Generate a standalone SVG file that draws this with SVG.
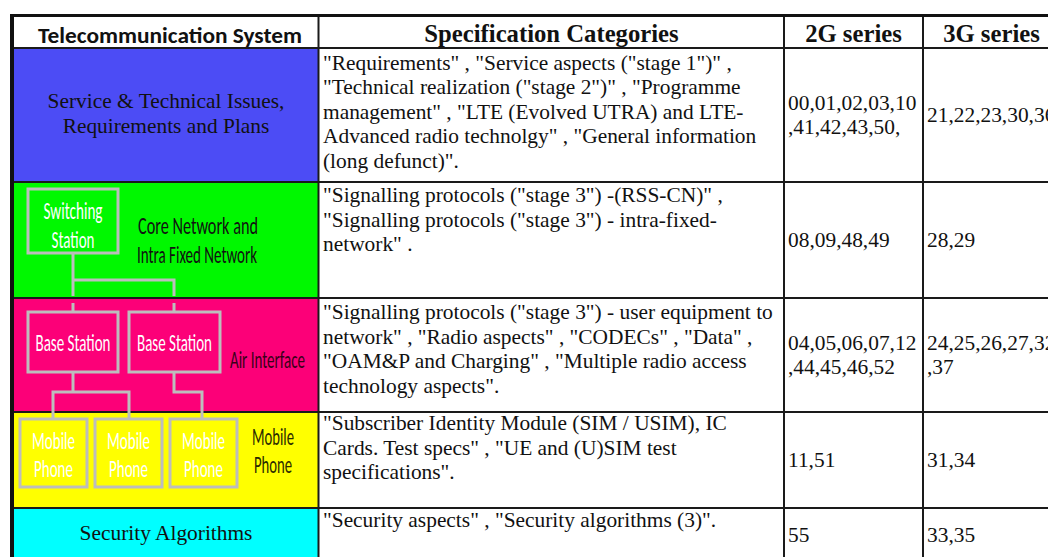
<svg xmlns="http://www.w3.org/2000/svg" width="1048" height="557" viewBox="0 0 1048 557">
<defs>
<clipPath id="canvas"><rect x="0" y="0" width="1048" height="557"/></clipPath>
</defs>
<style>
.serif{font-family:"Liberation Serif","Times New Roman",serif;font-size:21.4px;fill:#111}
.hdr{font-family:"Liberation Serif","Times New Roman",serif;font-size:24.7px;font-weight:bold;fill:#111}
.num{font-family:"Liberation Serif","Times New Roman",serif;font-size:21.4px;fill:#111}
.narrow{font-family:Carlito,"Liberation Sans Narrow","Liberation Sans",sans-serif;font-size:24.5px;text-anchor:middle}
.wt{fill:#ffffff}
.box{fill:none;stroke:#bdbdbd;stroke-width:3}
.grid{stroke:#1a1a1a;stroke-width:2;fill:none}
.conn{stroke:#bdbdbd;stroke-width:3;fill:none}
</style>
<rect x="0" y="0" width="1048" height="557" fill="#ffffff"/>

<g id="col1-fills">
<rect x="14" y="49" width="304" height="133" fill="#4c4cf5"/>
<rect x="14" y="183" width="304" height="115" fill="#00f800"/>
<rect x="14" y="299" width="304" height="113" fill="#fc0078"/>
<rect x="14" y="413" width="304" height="95" fill="#ffff00"/>
<rect x="14" y="509" width="304" height="48" fill="#00ffff"/>
</g>

<g id="grid">
<line class="grid" x1="12" y1="48" x2="1048" y2="48"/>
<line class="grid" x1="12" y1="182" x2="1048" y2="182"/>
<line class="grid" x1="12" y1="298" x2="1048" y2="298"/>
<line class="grid" x1="12" y1="412" x2="1048" y2="412"/>
<line class="grid" x1="12" y1="508" x2="1048" y2="508"/>
<line class="grid" x1="318.5" y1="16" x2="318.5" y2="557"/>
<line class="grid" x1="784" y1="16" x2="784" y2="557"/>
<line class="grid" x1="923" y1="16" x2="923" y2="557"/>
<line x1="10" y1="15.5" x2="1048" y2="15.5" stroke="#111" stroke-width="3"/>
<line x1="12" y1="14" x2="12" y2="557" stroke="#111" stroke-width="4"/>
</g>

<g id="header">
<text x="170" y="43" text-anchor="middle" font-family="Carlito,'Liberation Sans',sans-serif" font-size="22.5" font-weight="bold" fill="#111" textLength="264" lengthAdjust="spacingAndGlyphs">Telecommunication System</text>
<text class="hdr" x="551.5" y="42" text-anchor="middle">Specification Categories</text>
<text class="hdr" x="853.5" y="42" text-anchor="middle">2G series</text>
<text class="hdr" x="991.5" y="42" text-anchor="middle">3G series</text>
</g>

<g id="row-service">
<text class="serif" x="166" y="108" text-anchor="middle">Service &amp; Technical Issues,</text>
<text class="serif" x="166" y="133" text-anchor="middle">Requirements and Plans</text>
<text class="serif" x="323"><tspan x="323" y="69.5">"Requirements" , "Service aspects ("stage 1")" ,</tspan><tspan x="323" y="94">"Technical realization ("stage 2")" , "Programme</tspan><tspan x="323" y="118.5">management" , "LTE (Evolved UTRA) and LTE-</tspan><tspan x="323" y="143">Advanced radio technolgy" , "General information</tspan><tspan x="323" y="167.5">(long defunct)".</tspan></text>
<text class="num" x="788" y="110">00,01,02,03,10</text>
<text class="num" x="788" y="134">,41,42,43,50,</text>
<text class="num" x="927" y="122" clip-path="url(#canvas)">21,22,23,30,36</text>
</g>

<g id="row-core">
<text class="serif" x="323"><tspan x="323" y="202">"Signalling protocols ("stage 3") -(RSS-CN)" ,</tspan><tspan x="323" y="226.5">"Signalling protocols ("stage 3") - intra-fixed-</tspan><tspan x="323" y="251">network" .</tspan></text>
<text class="num" x="788" y="247">08,09,48,49</text>
<text class="num" x="927" y="247">28,29</text>
</g>

<g id="row-air">
<text class="serif" x="323"><tspan x="323" y="319">"Signalling protocols ("stage 3") - user equipment to</tspan><tspan x="323" y="343.5">network" , "Radio aspects" , "CODECs" , "Data" ,</tspan><tspan x="323" y="368">"OAM&amp;P and Charging" , "Multiple radio access</tspan><tspan x="323" y="392.5">technology aspects".</tspan></text>
<text class="num" x="788" y="350">04,05,06,07,12</text>
<text class="num" x="788" y="374">,44,45,46,52</text>
<text class="num" x="927" y="350" clip-path="url(#canvas)">24,25,26,27,32</text>
<text class="num" x="927" y="374">,37</text>
</g>

<g id="row-mobile">
<text class="serif" x="323"><tspan x="323" y="430">"Subscriber Identity Module (SIM / USIM), IC</tspan><tspan x="323" y="454.5">Cards. Test specs" , "UE and (U)SIM test</tspan><tspan x="323" y="479">specifications".</tspan></text>
<text class="num" x="788" y="467">11,51</text>
<text class="num" x="927" y="467">31,34</text>
</g>

<g id="row-security">
<text class="serif" x="166" y="540" text-anchor="middle">Security Algorithms</text>
<text class="serif" x="323" y="527">"Security aspects" , "Security algorithms (3)".</text>
<text class="num" x="788" y="542">55</text>
<text class="num" x="927" y="542">33,35</text>
</g>

<g id="connectors">
<polyline class="conn" points="73,253 73,296"/>
<polyline class="conn" points="73,280 174,280 174,296"/>
<line class="conn" x1="73" y1="303" x2="73" y2="312"/>
<line class="conn" x1="174" y1="303" x2="174" y2="312"/>
<polyline class="conn" points="73,372 73,392"/>
<polyline class="conn" points="53,419 53,392 129,392 129,419"/>
<polyline class="conn" points="174,372 174,392 202,392 202,419"/>
</g>

<g id="switching-station">
<rect class="box" x="28" y="189" width="90" height="64"/>
<text class="narrow wt" transform="translate(73,219) scale(0.62,1)" textLength="95.2" lengthAdjust="spacingAndGlyphs">Switching</text>
<text class="narrow wt" transform="translate(73,248) scale(0.62,1)" textLength="69.4" lengthAdjust="spacingAndGlyphs">Station</text>
</g>
<g id="core-network-label">
<text class="narrow" fill="#111" transform="translate(198,234) scale(0.62,1)" textLength="193.5" lengthAdjust="spacingAndGlyphs">Core Network and</text>
<text class="narrow" fill="#111" transform="translate(197,263) scale(0.62,1)" textLength="193.5" lengthAdjust="spacingAndGlyphs">Intra Fixed Network</text>
</g>

<g id="base-station-1">
<rect class="box" x="28" y="312" width="90" height="60"/>
<text class="narrow wt" transform="translate(73,351) scale(0.62,1)" textLength="121" lengthAdjust="spacingAndGlyphs">Base Station</text>
</g>
<g id="base-station-2">
<rect class="box" x="129" y="312" width="91" height="60"/>
<text class="narrow wt" transform="translate(174.5,351) scale(0.62,1)" textLength="121" lengthAdjust="spacingAndGlyphs">Base Station</text>
</g>
<g id="air-interface-label">
<text class="narrow" fill="#3a0018" transform="translate(267.5,368) scale(0.62,1)" textLength="121" lengthAdjust="spacingAndGlyphs">Air Interface</text>
</g>

<g id="mobile-phone-1">
<rect class="box" x="20" y="419" width="67" height="68"/>
<text class="narrow wt" transform="translate(53.5,449) scale(0.62,1)" textLength="69.4" lengthAdjust="spacingAndGlyphs">Mobile</text>
<text class="narrow wt" transform="translate(53.5,477) scale(0.62,1)" textLength="62.9" lengthAdjust="spacingAndGlyphs">Phone</text>
</g>
<g id="mobile-phone-2">
<rect class="box" x="95" y="419" width="67" height="68"/>
<text class="narrow wt" transform="translate(128.5,449) scale(0.62,1)" textLength="69.4" lengthAdjust="spacingAndGlyphs">Mobile</text>
<text class="narrow wt" transform="translate(128.5,477) scale(0.62,1)" textLength="62.9" lengthAdjust="spacingAndGlyphs">Phone</text>
</g>
<g id="mobile-phone-3">
<rect class="box" x="170" y="419" width="67" height="68"/>
<text class="narrow wt" transform="translate(203.5,449) scale(0.62,1)" textLength="69.4" lengthAdjust="spacingAndGlyphs">Mobile</text>
<text class="narrow wt" transform="translate(203.5,477) scale(0.62,1)" textLength="62.9" lengthAdjust="spacingAndGlyphs">Phone</text>
</g>
<g id="mobile-phone-label">
<text class="narrow" fill="#2a2a00" transform="translate(273,445) scale(0.62,1)" textLength="67.7" lengthAdjust="spacingAndGlyphs">Mobile</text>
<text class="narrow" fill="#2a2a00" transform="translate(273,473) scale(0.62,1)" textLength="61.3" lengthAdjust="spacingAndGlyphs">Phone</text>
</g>
</svg>
